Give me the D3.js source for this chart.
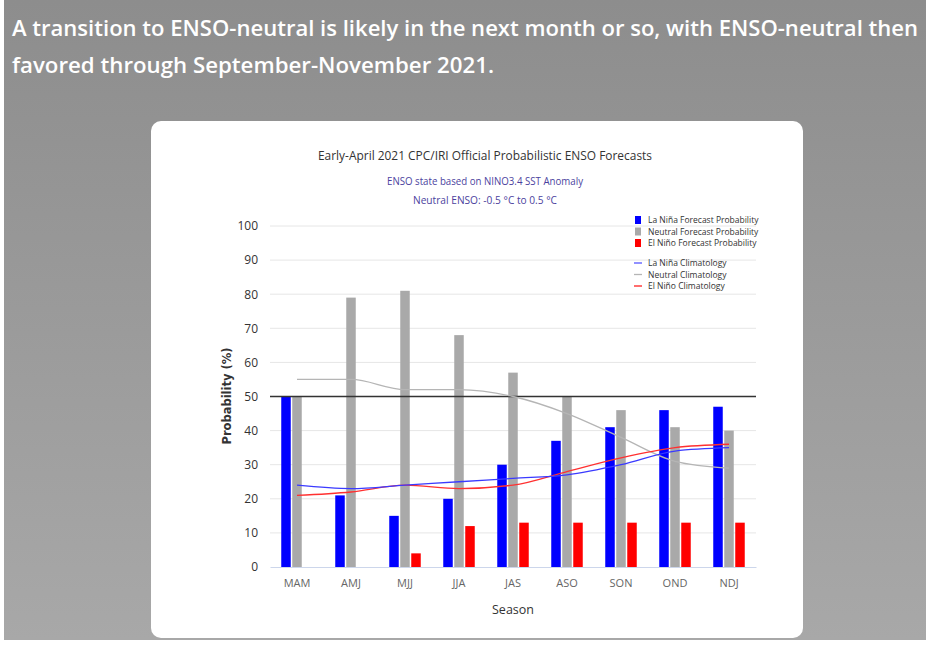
<!DOCTYPE html>
<html>
<head>
<meta charset="utf-8">
<script src="https://cdn.jsdelivr.net/npm/d3@7"></script>
<style>
  html, body { margin: 0; padding: 0; background: #fff; }
  svg { display: block; }
</style>
</head>
<body>
<svg id="chart" width="926" height="645"></svg>
<script>
// seasons and forecast probabilities (%)
var seasons = ["MAM", "AMJ", "MJJ", "JJA", "JAS", "ASO", "SON", "OND", "NDJ"];
var laNina = [50, 21, 15, 20, 30, 37, 41, 46, 47];
var neutral = [50, 79, 81, 68, 57, 50, 46, 41, 40];
var elNino = [0, 0, 4, 12, 13, 13, 13, 13, 13];

// climatology (%)
var laNinaClim = [24, 23, 24, 25, 26, 27, 30, 34, 35];
var neutralClim = [55, 55, 52, 52, 50, 45, 38, 31, 29];
var elNinoClim = [21, 22, 24, 23, 24, 28, 32, 35, 36];

var yTicks = [0, 10, 20, 30, 40, 50, 60, 70, 80, 90, 100];

(function() {
var svg = d3.select("#chart");

// page background
var defs = svg.append("defs");
var grad = defs.append("linearGradient").attr("id", "bg").attr("x1", 0).attr("y1", 0).attr("x2", 0).attr("y2", 1);
grad.append("stop").attr("offset", "0%").attr("stop-color", "#8d8d8d");
grad.append("stop").attr("offset", "100%").attr("stop-color", "#a8a8a8");
svg.append("rect").attr("x", 4).attr("y", 0).attr("width", 922).attr("height", 640).attr("fill", "url(#bg)");

// headline
svg.append("text").attr("x", 12).attr("y", 36)
  .attr("font-family", "Open Sans").attr("font-weight", 600).attr("font-size", "22px")
  .attr("fill", "#fff").attr("textLength", 906).attr("lengthAdjust", "spacingAndGlyphs")
  .text("A transition to ENSO-neutral is likely in the next month or so, with ENSO-neutral then");
svg.append("text").attr("x", 12).attr("y", 73)
  .attr("font-family", "Open Sans").attr("font-weight", 600).attr("font-size", "22px")
  .attr("fill", "#fff").attr("textLength", 482).attr("lengthAdjust", "spacingAndGlyphs")
  .text("favored through September-November 2021.");

// card
svg.append("rect").attr("x", 151).attr("y", 121).attr("width", 652).attr("height", 517)
  .attr("rx", 10).attr("fill", "#fff");

// titles
svg.append("text").attr("x", 485).attr("y", 160).attr("text-anchor", "middle")
  .attr("font-family", "Open Sans").attr("font-size", "12.5px").attr("fill", "#333")
  .attr("textLength", 334).attr("lengthAdjust", "spacingAndGlyphs")
  .text("Early-April 2021 CPC/IRI Official Probabilistic ENSO Forecasts");
svg.append("text").attr("x", 485).attr("y", 185).attr("text-anchor", "middle")
  .attr("font-family", "Open Sans").attr("font-size", "10px").attr("fill", "#4b3f9e")
  .attr("textLength", 196).attr("lengthAdjust", "spacingAndGlyphs")
  .text("ENSO state based on NINO3.4 SST Anomaly");
svg.append("text").attr("x", 485).attr("y", 204).attr("text-anchor", "middle")
  .attr("font-family", "Open Sans").attr("font-size", "10px").attr("fill", "#4b3f9e")
  .attr("textLength", 144).attr("lengthAdjust", "spacingAndGlyphs")
  .text("Neutral ENSO: -0.5 °C to 0.5 °C");

// plot area
var pLeft = 270, pRight = 756, pTop = 226, pBottom = 567;

var x = d3.scaleBand().domain(seasons).range([pLeft, pRight]).padding(0);
var y = d3.scaleLinear().domain([0, 100]).range([pBottom, pTop]);

var g = svg.append("g");

// gridlines
g.selectAll("line.grid").data(yTicks.filter(function(d){ return d > 0; })).enter().append("line")
  .attr("class", "grid")
  .attr("x1", pLeft).attr("x2", pRight)
  .attr("y1", function(d){ return y(d); }).attr("y2", function(d){ return y(d); })
  .attr("stroke", "#e6e6e6").attr("stroke-width", 1);

// y axis labels
var yAxis = d3.axisLeft(y).tickValues(yTicks).tickSize(0).tickPadding(12);
var ya = g.append("g").attr("transform", "translate(" + pLeft + ",0)").call(yAxis);
ya.select(".domain").remove();
ya.selectAll("text").attr("font-family", "Open Sans").attr("font-size", "12px").attr("fill", "#333");

// x axis
var xAxis = d3.axisBottom(x).tickSize(0).tickPadding(12);
var xa = g.append("g").attr("transform", "translate(0," + pBottom + ")").call(xAxis);
xa.select(".domain").attr("stroke", "#ccd6eb");
xa.selectAll("text").attr("font-family", "Open Sans").attr("font-size", "11px").attr("fill", "#666");

svg.append("text").attr("transform", "translate(231,396) rotate(-90)").attr("text-anchor", "middle")
  .attr("font-family", "DejaVu Sans").attr("font-weight", 700).attr("font-size", "11.5px").attr("fill", "#333")
  .text("Probability (%)");
svg.append("text").attr("x", 513).attr("y", 614).attr("text-anchor", "middle")
  .attr("font-family", "Open Sans").attr("font-size", "12.5px").attr("fill", "#333")
  .text("Season");

// bars
var barW = 9.5;
var series = [
  { values: laNina, color: "#0000ff", offset: -11 },
  { values: neutral, color: "#a9a9a9", offset: 0 },
  { values: elNino, color: "#ff0000", offset: 11 }
];
series.forEach(function(s) {
  g.selectAll(null).data(s.values).enter().append("rect")
    .attr("x", function(d, i){ return x(seasons[i]) + x.bandwidth() / 2 + s.offset - barW / 2; })
    .attr("y", function(d){ return y(d); })
    .attr("width", barW)
    .attr("height", function(d){ return pBottom - y(d); })
    .attr("fill", s.color);
});

// 50% reference line
g.append("line").attr("x1", pLeft).attr("x2", pRight).attr("y1", y(50)).attr("y2", y(50))
  .attr("stroke", "#333").attr("stroke-width", 1.5);

// climatology lines
var line = d3.line()
  .x(function(d, i){ return x(seasons[i]) + x.bandwidth() / 2; })
  .y(function(d){ return y(d); })
  .curve(d3.curveMonotoneX);
[[neutralClim, "#b5b5b5"], [elNinoClim, "#ff3030"], [laNinaClim, "#3a3aff"]].forEach(function(c) {
  g.append("path").datum(c[0]).attr("d", line)
    .attr("fill", "none").attr("stroke", c[1]).attr("stroke-width", 1.3);
});

// legend
var legBars = [["La Niña Forecast Probability", "#0000ff"], ["Neutral Forecast Probability", "#a9a9a9"], ["El Niño Forecast Probability", "#ff0000"]];
var legLines = [["La Niña Climatology", "#5555ff"], ["Neutral Climatology", "#b5b5b5"], ["El Niño Climatology", "#ff2020"]];
var leg = svg.append("g").attr("font-family", "Open Sans").attr("font-size", "8.5px").attr("fill", "#333");
legBars.forEach(function(d, i) {
  var yy = 220 + i * 11.5;
  leg.append("rect").attr("x", 635).attr("y", yy - 4).attr("width", 6).attr("height", 8).attr("fill", d[1]);
  leg.append("text").attr("x", 648).attr("y", yy + 3).text(d[0]);
});
legLines.forEach(function(d, i) {
  var yy = 263 + i * 11.5;
  leg.append("line").attr("x1", 634).attr("x2", 642).attr("y1", yy).attr("y2", yy).attr("stroke", d[1]).attr("stroke-width", 1.3);
  leg.append("text").attr("x", 648).attr("y", yy + 3).text(d[0]);
});
})();
</script>
</body>
</html>
